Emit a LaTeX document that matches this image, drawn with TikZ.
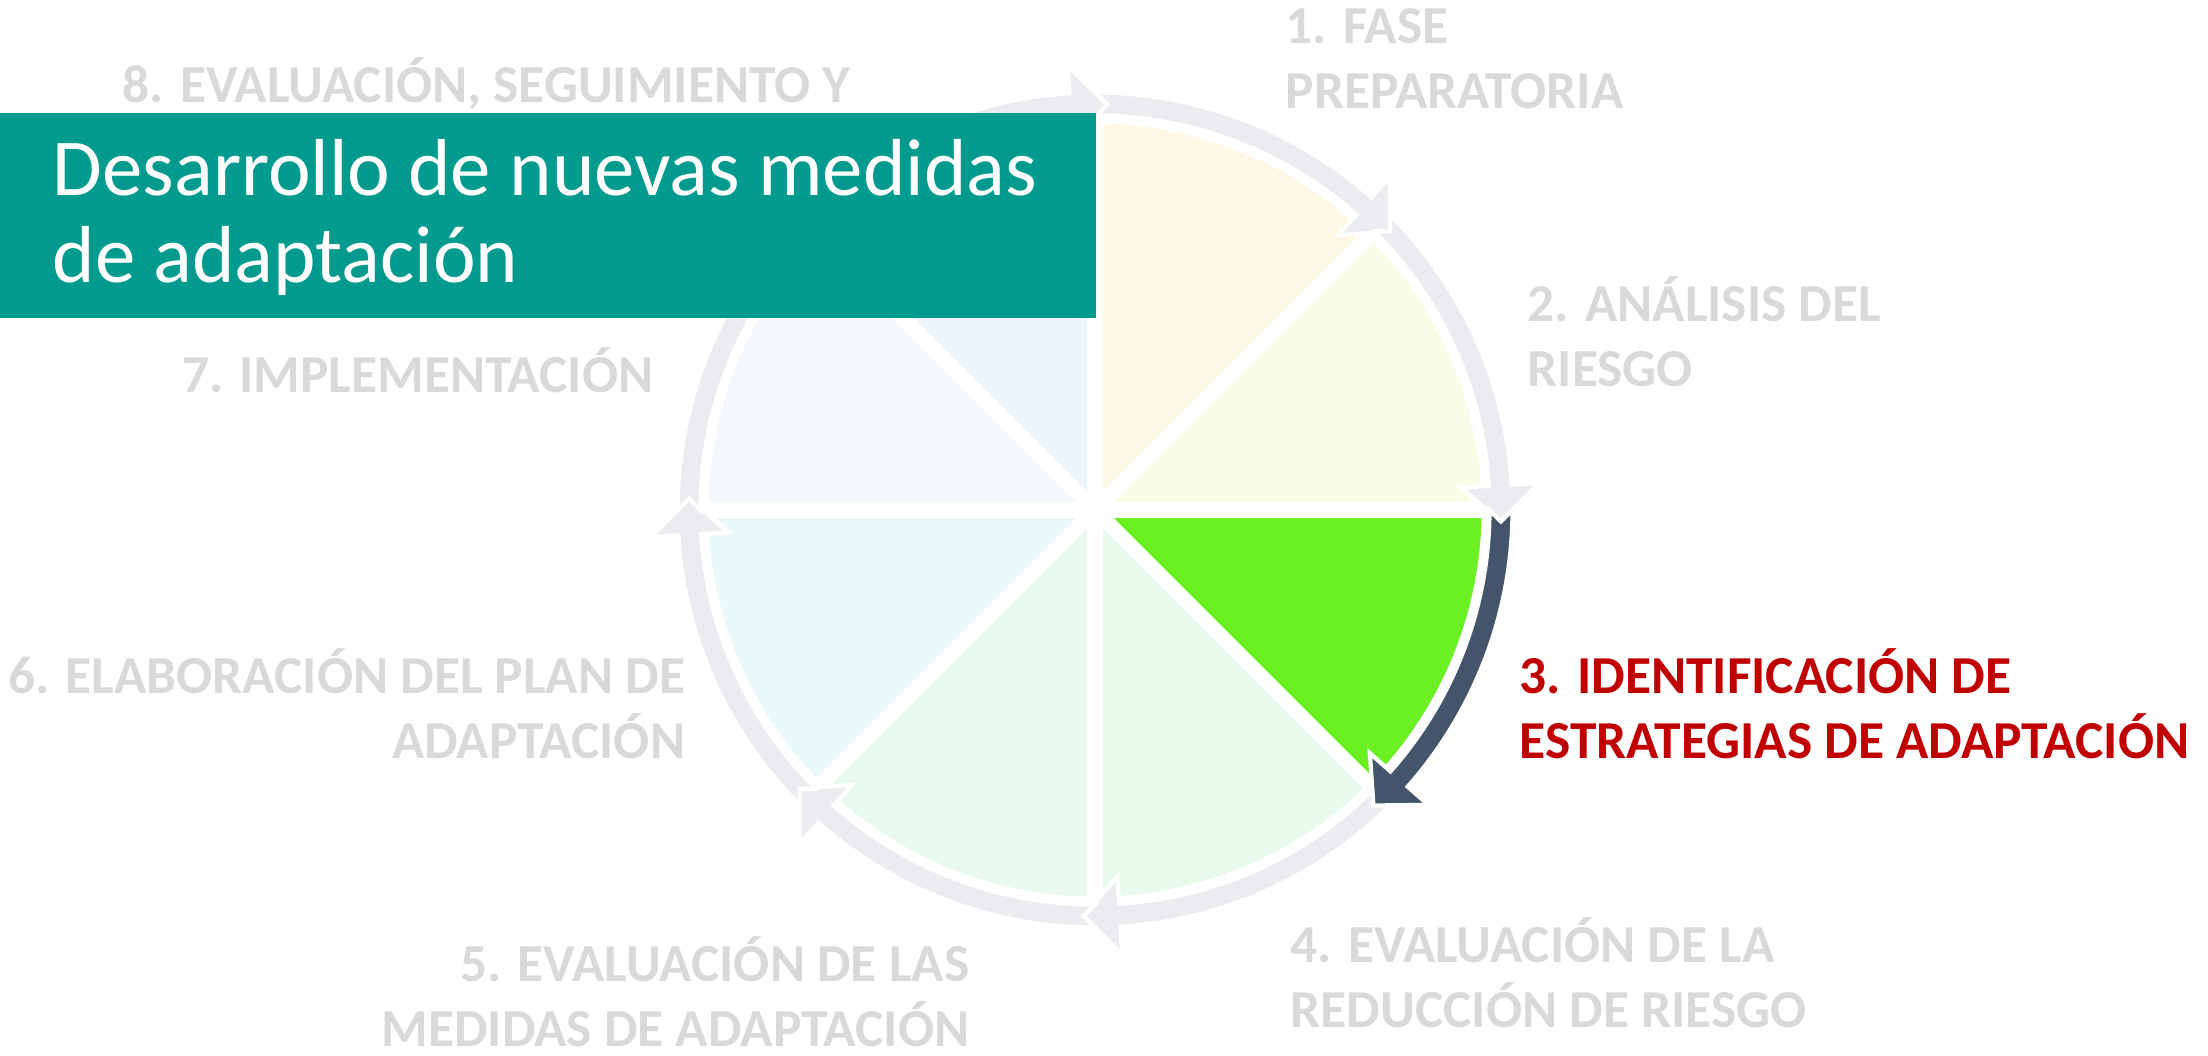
\documentclass[tikz,border=0pt]{standalone}
\usepackage{fontspec}
\setmainfont{Carlito}
\usetikzlibrary{calc}

\definecolor{gris}{RGB}{235,236,239}
\definecolor{pizarra}{RGB}{68,84,106}
\definecolor{letra}{RGB}{217,217,217}
\definecolor{rojo}{RGB}{192,0,0}
\definecolor{turquesa}{RGB}{0,155,142}
\definecolor{sa}{RGB}{255,248,231}
\definecolor{sb}{RGB}{247,253,231}
\definecolor{sc}{RGB}{106,240,35}
\definecolor{sd}{RGB}{232,250,236}
\definecolor{se}{RGB}{233,249,238}
\definecolor{sf}{RGB}{235,249,249}
\definecolor{sg}{RGB}{244,247,251}
\definecolor{sh}{RGB}{235,243,251}

\begin{document}
\begin{tikzpicture}[
  sector/.style={draw=white, line width=0.8pt},
  separa/.style={white, line width=4.3pt},
  flecha/.style={fill=gris, draw=white, line width=1.2pt},
  activa/.style={fill=pizarra, draw=white, line width=1.2pt},
  etiqueta/.style={font=\fontsize{15.2}{18.5}\selectfont\bfseries, text=letra, inner sep=0pt},
  titulo/.style={font=\fontsize{23}{24.7}\selectfont, text=white, inner sep=0pt}
  ]
    \useasboundingbox (0,0) rectangle (22.08,-10.55);
    \coordinate (c) at (10.95,-5.10);

\begin{scope}[shift={(c)}]
% spicchi
\filldraw[sector, fill=sa] (0,0) -- (90:3.88) arc[start angle=90, end angle=45, radius=3.88] -- cycle;
\filldraw[sector, fill=sb] (0,0) -- (45:3.88) arc[start angle=45, end angle=0, radius=3.88] -- cycle;
\filldraw[sector, fill=sc] (0,0) -- (0:3.88) arc[start angle=0, end angle=-45, radius=3.88] -- cycle;
\filldraw[sector, fill=sd] (0,0) -- (-45:3.88) arc[start angle=-45, end angle=-90, radius=3.88] -- cycle;
\filldraw[sector, fill=se] (0,0) -- (-90:3.88) arc[start angle=-90, end angle=-135, radius=3.88] -- cycle;
\filldraw[sector, fill=sf] (0,0) -- (-135:3.88) arc[start angle=-135, end angle=-180, radius=3.88] -- cycle;
\filldraw[sector, fill=sg] (0,0) -- (180:3.88) arc[start angle=180, end angle=135, radius=3.88] -- cycle;
\filldraw[sector, fill=sh] (0,0) -- (135:3.88) arc[start angle=135, end angle=90, radius=3.88] -- cycle;

% separadores
\draw[separa] (90:3.92) -- (-90:3.92);
\draw[separa] (0:3.92) -- (180:3.92);
\draw[separa] (45:3.92) -- (-135:3.92);
\draw[separa] (135:3.92) -- (-45:3.92);

% anillo de flechas
\filldraw[flecha] (90:3.945) -- (88.38:4.06) -- (90:4.175) arc[start angle=90, end angle=48.5, radius=4.175] -- (48.5:4.45) -- (43.3:4.06) -- (48.5:3.67) -- (48.5:3.945) arc[start angle=48.5, end angle=90, radius=3.945] -- cycle;
\filldraw[flecha] (45:3.945) -- (43.38:4.06) -- (45:4.175) arc[start angle=45, end angle=3.5, radius=4.175] -- (3.5:4.45) -- (-1.7:4.06) -- (3.5:3.67) -- (3.5:3.945) arc[start angle=3.5, end angle=45, radius=3.945] -- cycle;
\filldraw[flecha] (-45:3.945) -- (-46.62:4.06) -- (-45:4.175) arc[start angle=-45, end angle=-86.5, radius=4.175] -- (-86.5:4.45) -- (-91.7:4.06) -- (-86.5:3.67) -- (-86.5:3.945) arc[start angle=-86.5, end angle=-45, radius=3.945] -- cycle;
\filldraw[flecha] (-90:3.945) -- (-91.62:4.06) -- (-90:4.175) arc[start angle=-90, end angle=-131.5, radius=4.175] -- (-131.5:4.45) -- (-136.7:4.06) -- (-131.5:3.67) -- (-131.5:3.945) arc[start angle=-131.5, end angle=-90, radius=3.945] -- cycle;
\filldraw[flecha] (-135:3.945) -- (-136.62:4.06) -- (-135:4.175) arc[start angle=-135, end angle=-176.5, radius=4.175] -- (-176.5:4.45) -- (-181.7:4.06) -- (-176.5:3.67) -- (-176.5:3.945) arc[start angle=-176.5, end angle=-135, radius=3.945] -- cycle;
\filldraw[flecha] (180:3.945) -- (178.38:4.06) -- (180:4.175) arc[start angle=180, end angle=138.5, radius=4.175] -- (138.5:4.45) -- (133.3:4.06) -- (138.5:3.67) -- (138.5:3.945) arc[start angle=138.5, end angle=180, radius=3.945] -- cycle;
\filldraw[flecha] (135:3.945) -- (133.38:4.06) -- (135:4.175) arc[start angle=135, end angle=93.5, radius=4.175] -- (93.5:4.45) -- (88.3:4.06) -- (93.5:3.67) -- (93.5:3.945) arc[start angle=93.5, end angle=135, radius=3.945] -- cycle;
% fase activa
\filldraw[activa] (0:3.945) -- (-1.62:4.06) -- (0:4.175) arc[start angle=0, end angle=-41.5, radius=4.175] -- (-41.5:4.45) -- (-46.7:4.06) -- (-41.5:3.67) -- (-41.5:3.945) arc[start angle=-41.5, end angle=0, radius=3.945] -- cycle;
\end{scope}

% etiquetas (base = ultima riga)
\node[etiqueta, anchor=base west, align=left] (f1) at (12.85,-1.08) {1. FASE\\PREPARATORIA};
\node[etiqueta, anchor=base west, align=left] (f2) at (15.27,-3.86) {2. ANÁLISIS DEL\\RIESGO};
\node[etiqueta, anchor=base west, align=left, text=rojo] (f3) at (15.19,-7.58) {3. IDENTIFICACIÓN DE\\ESTRATEGIAS DE ADAPTACIÓN};
\node[etiqueta, anchor=base west, align=left] (f4) at (12.90,-10.27) {4. EVALUACIÓN DE LA\\REDUCCIÓN DE RIESGO};
\node[etiqueta, anchor=base east, align=right] (f5) at (9.70,-10.46) {5. EVALUACIÓN DE LAS\\MEDIDAS DE ADAPTACIÓN};
\node[etiqueta, anchor=base east, align=right] (f6) at (6.86,-7.58) {6. ELABORACIÓN DEL PLAN DE\\ADAPTACIÓN};
\node[etiqueta, anchor=base east] (f7) at (6.54,-3.92) {7. IMPLEMENTACIÓN};
\node[etiqueta, anchor=base east] (f8) at (8.51,-1.02) {8. EVALUACIÓN, SEGUIMIENTO Y};

% titulo
\fill[turquesa] (0,-1.13) rectangle (10.96,-3.18);
\node[titulo, anchor=base west, align=left] (tit) at (0.52,-2.82) {Desarrollo de nuevas medidas\\de adaptación};

\end{tikzpicture}
\end{document}
